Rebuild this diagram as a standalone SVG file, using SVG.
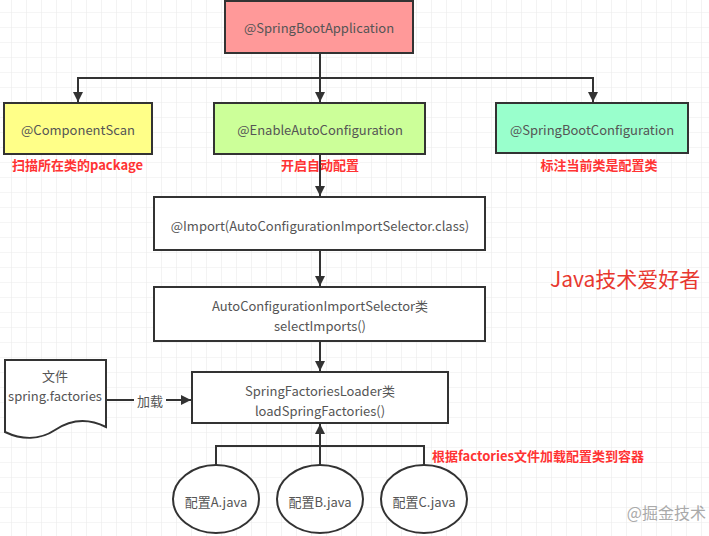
<svg xmlns="http://www.w3.org/2000/svg" width="709" height="536" viewBox="0 0 709 536">
<defs>
<pattern id="grid" x="11" y="12" width="15" height="15" patternUnits="userSpaceOnUse">
<path d="M0,0 H15 M0,0 V15" fill="none" stroke="#ebebeb" stroke-width="1.2"/>
</pattern>
<marker id="arr" viewBox="0 0 10 10" refX="10" refY="5" markerWidth="10" markerHeight="10" markerUnits="userSpaceOnUse" orient="auto">
<path d="M0,0 L10,5 L0,10 Z" fill="#333"/>
</marker>
</defs>
<style>
.box{stroke:#333;stroke-width:2}
.t{font-family:"Noto Sans CJK SC","Noto Sans",sans-serif;font-size:13px;fill:#555;text-anchor:middle;dominant-baseline:central}
.r{font-family:"Noto Sans CJK SC","Noto Sans",sans-serif;font-size:13px;font-weight:bold;fill:#ff3333;dominant-baseline:central}
.ln{fill:none;stroke:#333;stroke-width:2}
</style>
<rect width="709" height="536" fill="#ffffff"/>
<rect width="709" height="536" fill="url(#grid)"/>

<g id="connectors">
<path class="ln" d="M320,53 V78 H78 V102" marker-end="url(#arr)"/>
<path class="ln" d="M320,78 V102" marker-end="url(#arr)"/>
<path class="ln" d="M320,78 H593 V102" marker-end="url(#arr)"/>
<path class="ln" d="M320,154 V196" marker-end="url(#arr)"/>
<path class="ln" d="M320,250 V286" marker-end="url(#arr)"/>
<path class="ln" d="M320,341 V371" marker-end="url(#arr)"/>
<path class="ln" d="M106,400 H191" marker-end="url(#arr)"/>
<rect x="134" y="391" width="32" height="18" fill="#ffffff"/>
<text class="t" x="150" y="400">加载</text>
<path class="ln" d="M320,465 V424" marker-end="url(#arr)"/>
<path class="ln" d="M216,465 V446 H424 V465"/>
</g>

<g id="app">
<rect class="box" x="225" y="1" width="188" height="52" fill="#ff9999"/>
<text class="t" x="319" y="27">@SpringBootApplication</text>
</g>
<g id="componentscan">
<rect class="box" x="4" y="103" width="148" height="51" fill="#ffff88"/>
<text class="t" x="78" y="129">@ComponentScan</text>
<text class="r" x="12" y="164">扫描所在类的package</text>
</g>
<g id="enableauto">
<rect class="box" x="214" y="103" width="211" height="51" fill="#ccff99"/>
<text class="t" x="320" y="129">@EnableAutoConfiguration</text>
<text class="r" x="320" y="164" text-anchor="middle">开启自动配置</text>
</g>
<g id="sbconfig">
<rect class="box" x="496" y="103" width="192" height="50" fill="#99ffcc"/>
<text class="t" x="592" y="129">@SpringBootConfiguration</text>
<text class="r" x="599" y="164" text-anchor="middle">标注当前类是配置类</text>
</g>
<g id="import">
<rect class="box" x="154" y="197" width="331" height="53" fill="#ffffff"/>
<text class="t" x="320" y="225">@Import(AutoConfigurationImportSelector.class)</text>
</g>
<g id="selector">
<rect class="box" x="154" y="287" width="331" height="54" fill="#ffffff"/>
<text class="t" x="320" y="305">AutoConfigurationImportSelector类</text>
<text class="t" x="320" y="325">selectImports()</text>
</g>
<g id="loader">
<rect class="box" x="192" y="372" width="256" height="51" fill="#ffffff"/>
<text class="t" x="320" y="390">SpringFactoriesLoader类</text>
<text class="t" x="320" y="410">loadSpringFactories()</text>
</g>
<g id="file">
<path class="box" d="M5,360 H106 V427 C88,418 70,420 55,430 C40,440 22,440 5,432 Z" fill="#ffffff"/>
<text class="t" x="55" y="375">文件</text>
<text class="t" x="55" y="395">spring.factories</text>
</g>
<g id="cfgA">
<ellipse class="box" cx="216" cy="499" rx="43" ry="34" fill="#ffffff"/>
<text class="t" x="216" y="501">配置A.java</text>
</g>
<g id="cfgB">
<ellipse class="box" cx="320" cy="499" rx="43" ry="34" fill="#ffffff"/>
<text class="t" x="320" y="501">配置B.java</text>
</g>
<g id="cfgC">
<ellipse class="box" cx="424" cy="499" rx="43" ry="34" fill="#ffffff"/>
<text class="t" x="424" y="501">配置C.java</text>
</g>
<text class="r" x="432" y="455">根据factories文件加载配置类到容器</text>
<text x="550" y="278" font-family="'Noto Sans CJK SC','Noto Sans',sans-serif" font-size="21" fill="#e8382f" dominant-baseline="central">Java技术爱好者</text>
<text x="706" y="512" text-anchor="end" font-family="'Noto Sans CJK SC','Noto Sans',sans-serif" font-size="16" fill="#aaaaaa" dominant-baseline="central">@掘金技术</text>
</svg>
